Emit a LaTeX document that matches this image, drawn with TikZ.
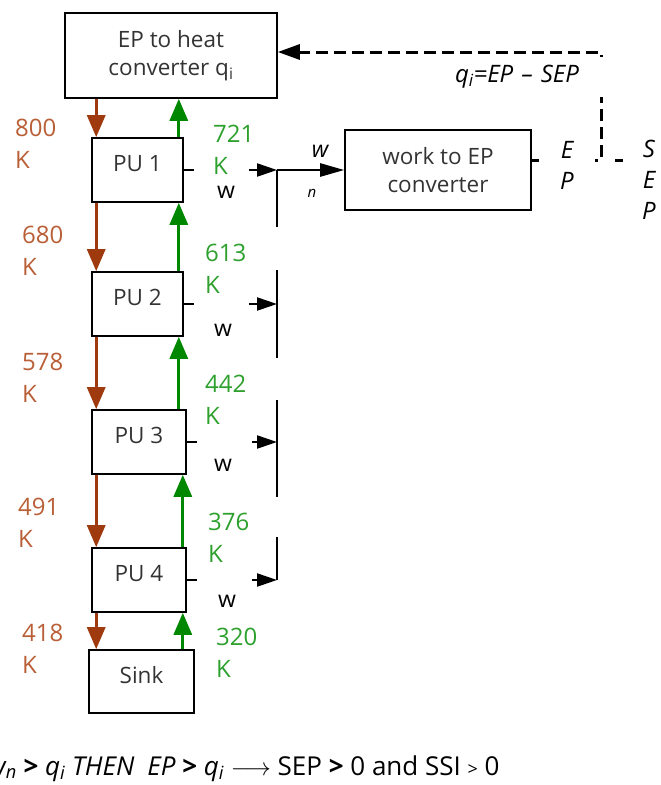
\documentclass[tikz,border=0pt]{standalone}
\usepackage{fontspec}
\setmainfont{Open Sans}
\usetikzlibrary{arrows.meta, positioning, calc}
\definecolor{hotbrown}{RGB}{158,58,14}
\definecolor{hotlabel}{RGB}{185,95,55}
\definecolor{coldgreen}{RGB}{0,135,0}
\definecolor{coldlabel}{RGB}{45,160,45}

\begin{document}
\begin{tikzpicture}[x=1pt, y=-1pt,
		unit/.style={draw, line width=1.6pt, minimum width=91pt, minimum height=64pt, inner sep=0pt, font=\fontsize{22.5}{28}\selectfont, text=black!80, align=center},
		single/.style={text height=16pt, text depth=13pt},
		hot/.style={draw=hotbrown, line width=3pt, -{Triangle[length=22pt, width=18pt]}},
		cold/.style={draw=coldgreen, line width=3pt, -{Triangle[length=22pt, width=18pt]}},
		hotlbl/.style={font=\fontsize{24}{32}\selectfont, text=hotlabel, align=left, anchor=west, inner sep=0pt},
		coldlbl/.style={font=\fontsize{24}{32}\selectfont, text=coldlabel, align=left, anchor=west, inner sep=0pt},
		wlbl/.style={font=\fontsize{23}{26}\selectfont, inner sep=0pt},
		sidelbl/.style={font=\itshape\fontsize{24}{31}\selectfont, align=center, inner sep=0pt},
		tap/.style={line width=2.2pt, dash pattern=on 10pt off 55pt on 40pt, -{Triangle[length=20pt, width=13pt]}},
		bus/.style={line width=2.5pt},
		feed/.style={line width=3pt, dash pattern=on 12pt off 6pt}
	]
	\useasboundingbox (0,0) rectangle (661,785);

	% converters and power units
	\node[unit, minimum width=212pt, minimum height=85pt] (conv) at (171,55.5) {EP to heat\\converter q\textsubscript{i}};
	\node[unit, single] (pu1) at (137.5,170) {PU 1};
	\node[unit, single] (pu2) at (137.5,304) {PU 2};
	\node[unit, single, minimum width=94pt] (pu3) at (139,442) {PU 3};
	\node[unit, single, minimum width=94pt] (pu4) at (139,580) {PU 4};
	\node[unit, single, minimum width=105pt, minimum height=63pt] (sink) at (141.5,681.5) {Sink};
	\node[unit, minimum width=186pt, minimum height=80pt] (work) at (438,170) {work to EP\\converter};

	% hot stream (down)
	\draw[hot] ([xshift=5pt]pu1.north west |- conv.south) -- ([xshift=5pt]pu1.north west);
	\draw[hot] ([xshift=5pt]pu1.south west) -- ([xshift=5pt]pu2.north west);
	\draw[hot] ([xshift=5pt]pu2.south west) -- ([xshift=5pt]pu3.north west);
	\draw[hot] ([xshift=5pt]pu3.south west) -- ([xshift=5pt]pu4.north west);
	\draw[hot] ([xshift=5pt]pu4.south west) -- ([xshift=5pt]pu4.south west |- sink.north);

	% cold stream (up)
	\draw[cold] ([xshift=-5pt]pu1.north east) -- ([xshift=-5pt]pu1.north east |- conv.south);
	\draw[cold] ([xshift=-5pt]pu2.north east) -- ([xshift=-5pt]pu2.north east |- pu1.south);
	\draw[cold] ([xshift=-8pt]pu3.north east) -- ([xshift=-8pt]pu3.north east |- pu2.south);
	\draw[cold] ([xshift=-4pt]pu4.north east) -- ([xshift=-4pt]pu4.north east |- pu3.south);
	\draw[cold] ([xshift=-4pt]pu4.south east |- sink.north) -- ([xshift=-4pt]pu4.south east);

	% temperatures
	\node[hotlbl] (t800) at (15,143.5) {800\\K};
	\node[hotlbl] (t680) at (22,251) {680\\K};
	\node[hotlbl] (t578) at (22,377.5) {578\\K};
	\node[hotlbl] (t491) at (18,522.5) {491\\K};
	\node[hotlbl] (t418) at (22,649) {418\\K};
	\node[coldlbl] (t721) at (213,150) {721\\K};
	\node[coldlbl] (t613) at (205,269) {613\\K};
	\node[coldlbl] (t442) at (205,399.5) {442\\K};
	\node[coldlbl] (t376) at (208,537.5) {376\\K};
	\node[coldlbl] (t320) at (216,652.5) {320\\K};

	% work collection
	\coordinate (bustop) at (277,170);
	\coordinate (busend) at (277,580);
	\draw[tap] (pu1.east) -- (bustop);
	\draw[tap] (pu2.east) -- (pu2.east -| bustop);
	\draw[tap] (pu3.east) -- (pu3.east -| bustop);
	\draw[tap] (pu4.east) -- (busend);
	\draw[bus, dash pattern=on 57pt off 43pt on 88pt off 42pt on 97pt off 40pt on 60pt] (bustop) -- (busend);
	\draw[bus, -{Triangle[length=24pt, width=13pt]}] (bustop) -- (work.west);
	\node[wlbl] (w1) at (226,192) {w};
	\node[wlbl] (w2) at (223,330) {w};
	\node[wlbl] (w3) at (223,465) {w};
	\node[wlbl] (w4) at (227,601) {w};
	\node[font=\itshape\fontsize{23}{26}\selectfont, inner sep=0pt] (wn) at (320,151) {w};
	\node[font=\itshape\fontsize{15}{17}\selectfont, inner sep=0pt] (nsub) at (312,193) {n};

	% feedback of EP
	\coordinate (split) at (601,160);
	\coordinate (corner) at (601,52);
	\draw[feed, -{Triangle[length=22pt, width=15pt]}] ([yshift=10pt]work.east) -- (split) -- (corner) -- ([yshift=3.5pt]conv.east);
	\node[sidelbl, minimum width=56pt, fill=white] (eplbl) at (567,165) {E\\P};
	\node[font=\itshape\fontsize{24}{28}\selectfont, fill=white, text width=156pt, minimum height=40pt, inner sep=5pt, align=left] (qlbl) at (533,77) {q\textsubscript{i}=EP -- SEP};
	\node[sidelbl] (seplbl) at (649,180) {S\\E\\P};
	\draw[line width=3pt, dash pattern=on 8pt off 20pt, dash phase=14pt] (split) -- (split -| seplbl.west);

	% condition
	\node[anchor=base west, inner sep=0pt, font=\fontsize{26}{30}\selectfont] (rule) at (-13,775) {\textit{w\textsubscript{n}} \textbf{>} \textit{q\textsubscript{i} THEN}\enspace\textit{EP} \textbf{>} \textit{q\textsubscript{i}} $\longrightarrow$ SEP \textbf{>} 0 and SSI {\fontsize{18}{20}\selectfont >} 0};
\end{tikzpicture}
\end{document}
